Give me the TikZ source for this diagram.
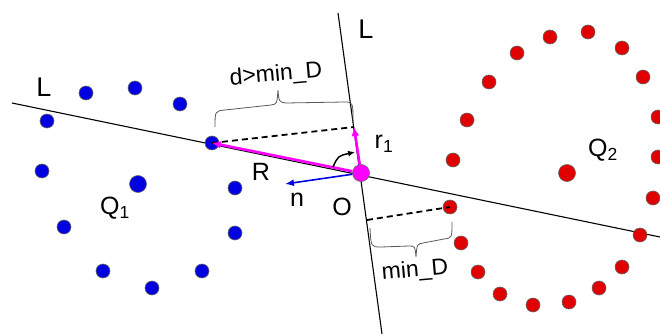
\documentclass[tikz,border=0pt]{standalone}
\usepackage{fontspec}
\setmainfont{Liberation Sans}
\usetikzlibrary{arrows.meta}
\definecolor{dotblue}{RGB}{0,0,225}
\definecolor{dotred}{RGB}{225,0,0}
\definecolor{magm}{RGB}{255,0,255}
\begin{document}
\begin{tikzpicture}[x=1pt,y=-1pt,
  bdot/.style={circle,draw=black!60,line width=0.6pt,fill=dotblue,inner sep=0pt,minimum size=14pt},
  rdot/.style={circle,draw=black!60,line width=0.6pt,fill=dotred,inner sep=0pt,minimum size=14pt},
  bigdot/.style={minimum size=17pt},
  lbl/.style={font=\fontsize{25}{25}\selectfont,inner sep=0pt},
  txt/.style={font=\fontsize{23}{23}\selectfont,inner sep=0pt},
  axis/.style={line width=1.1pt,black},
  dline/.style={line width=1.8pt,dash pattern=on 6pt off 4pt},
  brace/.style={line width=0.8pt,black!65},
  pinkarrow/.style={line width=2.6pt,magm,-{Latex[length=9pt,width=8pt]}},
  bluearrow/.style={line width=1.6pt,dotblue,-{Latex[length=9pt,width=7pt]}}]
\useasboundingbox (0,0) rectangle (660,334);
% lines L
\coordinate (La) at (12,103);
\coordinate (Lb) at (660,237);
\coordinate (Ma) at (338,13);
\coordinate (Mb) at (382,334);
\draw[axis] (La) -- (Lb);
\draw[axis] (Ma) -- (Mb);
% r1 tip and dashed foot
\coordinate (r1) at (354,127);
\coordinate (foot) at (367,220);
% blue dots
\node[bdot] (b1) at (47,121) {};
\node[bdot] (b2) at (86,93) {};
\node[bdot] (b3) at (135,88) {};
\node[bdot] (b4) at (180,104) {};
\node[bdot] (b5) at (212,143) {};
\node[bdot] (b6) at (42,171) {};
\node[bdot,bigdot] (b7) at (138,184) {};
\node[bdot] (b8) at (235,188) {};
\node[bdot] (b9) at (64,227) {};
\node[bdot] (b10) at (235,233) {};
\node[bdot] (b11) at (103,271) {};
\node[bdot] (b12) at (202,271) {};
\node[bdot] (b13) at (152,288) {};
% red dots
\node[rdot] (r01) at (467,120) {};
\node[rdot] (r02) at (489,82) {};
\node[rdot] (r03) at (517,53) {};
\node[rdot] (r04) at (550,37) {};
\node[rdot] (r05) at (588,32) {};
\node[rdot] (r06) at (622,48) {};
\node[rdot] (r07) at (643,77) {};
\node[rdot] (r08) at (658,117) {};
\node[rdot] (r09) at (658,157) {};
\node[rdot] (r10) at (653,198) {};
\node[rdot] (r11) at (640,235) {};
\node[rdot] (r12) at (622,267) {};
\node[rdot] (r13) at (599,288) {};
\node[rdot] (r14) at (569,302) {};
\node[rdot] (r15) at (533,305) {};
\node[rdot] (r16) at (500,294) {};
\node[rdot] (r17) at (478,272) {};
\node[rdot] (r18) at (461,243) {};
\node[rdot] (r19) at (450,207) {};
\node[rdot] (r20) at (453,160) {};
\node[rdot,bigdot] (r21) at (567,173) {};
% dashed lines
\draw[dline] (b5.center) -- (r1);
\draw[dline] (foot) -- (r19.center);
% origin
\node[circle,draw=black!60,line width=0.6pt,fill=magm,inner sep=0pt,minimum size=17pt] (O) at (361,173) {};
% arrows
\draw[pinkarrow] (O) -- (b5.center);
\draw[pinkarrow] (O) -- (r1);
\draw[bluearrow] (O) -- (285,184) coordinate (nt);
\draw[line width=1.5pt,-{Latex[length=7pt,width=6pt]}] (333,167) .. controls (338,156) .. (355,152) coordinate (ct);
% braces
\draw[brace] (215,127) .. controls (215,111) .. (225,110) -- (271,105) .. controls (277,104) .. (278,90) .. controls (279,102) .. (286,103) -- (344,102) .. controls (353,102) .. (353,122);
\draw[brace] (370,228) .. controls (371,247) .. (381,247) -- (409,246) .. controls (415,246) .. (416,257) .. controls (417,244) .. (423,243) -- (444,239) .. controls (452,238) .. (452,222);
% labels
\node[lbl,font=\fontsize{27}{27}\selectfont] (Lleft) at (44,87) {L};
\node[lbl,font=\fontsize{27}{27}\selectfont] (Ltop) at (366,29) {L};
\node[txt,rotate=5] (dlab) at (276,75) {d>min\_D};
\node[txt,rotate=5] (mlab) at (415,271) {min\_D};
\node[lbl] (Olab) at (342,207) {O};
\node[lbl] (Rlab) at (261,172) {R};
\node[lbl] (nlab) at (297,200) {n};
\node[lbl] (r1lab) at (384,144) {r\textsubscript{1}};
\node[lbl] (Q1) at (115,208) {Q\textsubscript{1}};
\node[lbl] (Q2) at (603,150) {Q\textsubscript{2}};
\end{tikzpicture}
\end{document}
